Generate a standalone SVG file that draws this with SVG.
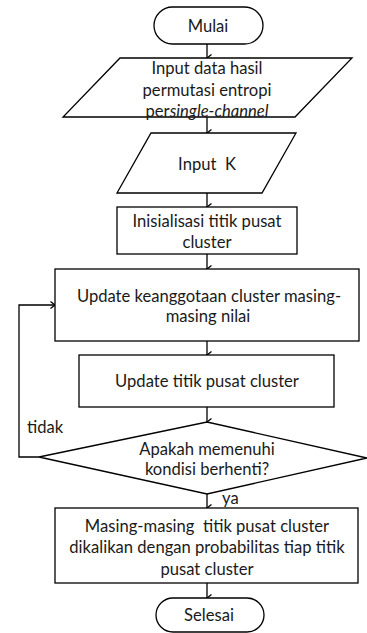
<svg xmlns="http://www.w3.org/2000/svg" width="367" height="633" viewBox="0 0 367 633">
  <style>
    .shape { fill: #ffffff; stroke: #000000; stroke-width: 1.3; }
    .edge { fill: none; stroke: #000000; stroke-width: 1.3; }
    text { font-family: Lato, "Liberation Sans", sans-serif; font-size: 16.6px; fill: #1a1a1a; text-anchor: middle; }
    .lbl { text-anchor: start; }
  </style>
  <defs>
    <marker id="arrow" markerWidth="10" markerHeight="8" refX="4" refY="6" orient="auto-start-reverse" markerUnits="userSpaceOnUse" viewBox="0 0 8 8">
      <path d="M0.5,1.5 L4,6 L7.5,1.5" fill="none" stroke="#000" stroke-width="1.3"/>
    </marker>
    <marker id="arrowR" markerWidth="8" markerHeight="10" refX="6" refY="4" markerUnits="userSpaceOnUse" viewBox="0 0 8 8">
      <path d="M1.5,0.5 L6,4 L1.5,7.5" fill="none" stroke="#000" stroke-width="1.3"/>
    </marker>
  </defs>

  <rect width="367" height="633" fill="#ffffff"/>

  <!-- connectors -->
  <g id="connectors">
    <line class="edge" x1="207" y1="44" x2="207" y2="58" marker-end="url(#arrow)"/>
    <line class="edge" x1="207" y1="117" x2="207" y2="133" marker-end="url(#arrow)"/>
    <line class="edge" x1="207" y1="193" x2="207" y2="207" marker-end="url(#arrow)"/>
    <line class="edge" x1="207" y1="254" x2="207" y2="269" marker-end="url(#arrow)"/>
    <line class="edge" x1="207" y1="341" x2="207" y2="355" marker-end="url(#arrow)"/>
    <line class="edge" x1="207" y1="407" x2="207" y2="422" marker-end="url(#arrow)"/>
    <line class="edge" x1="207" y1="494" x2="207" y2="508" marker-end="url(#arrow)"/>
    <line class="edge" x1="207" y1="583" x2="207" y2="598" marker-end="url(#arrow)"/>
    <polyline class="edge" points="39,457 19,457 19,305 55,305" marker-end="url(#arrowR)"/>
    <text class="lbl" x="27" y="433">tidak</text>
    <text class="lbl" x="222" y="504">ya</text>
  </g>

  <g id="start">
    <rect class="shape" x="154" y="7" width="109" height="37" rx="18.5"/>
    <text x="208" y="32">Mulai</text>
  </g>

  <g id="input-data">
    <polygon class="shape" points="120,58 352,58 295,117 63,117"/>
    <text x="207" y="74">Input data hasil</text>
    <text x="207" y="96">permutasi entropi</text>
    <text x="207" y="117">per<tspan font-style="italic">single-channel</tspan></text>
  </g>

  <g id="input-k">
    <polygon class="shape" points="151,133 296,133 262,193 117,193"/>
    <text x="207" y="170" xml:space="preserve">Input  K</text>
  </g>

  <g id="init-centroid">
    <rect class="shape" x="117" y="207" width="180" height="47"/>
    <text x="207" y="227">Inisialisasi titik pusat</text>
    <text x="207" y="248">cluster</text>
  </g>

  <g id="update-membership">
    <rect class="shape" x="55" y="269" width="304" height="72"/>
    <text x="209" y="302">Update keanggotaan cluster masing-</text>
    <text x="208" y="322">masing nilai</text>
  </g>

  <g id="update-centroid">
    <rect class="shape" x="79" y="355" width="255" height="52"/>
    <text x="207" y="387">Update titik pusat cluster</text>
  </g>

  <g id="stop-check">
    <polygon class="shape" points="207,422 367,458 207,494 39,457"/>
    <text x="207" y="455">Apakah memenuhi</text>
    <text x="207" y="475">kondisi berhenti?</text>
  </g>

  <g id="weighting">
    <rect class="shape" x="55" y="508" width="303" height="75"/>
    <text x="207" y="532" xml:space="preserve">Masing-masing  titik pusat cluster</text>
    <text x="207" y="553">dikalikan dengan probabilitas tiap titik</text>
    <text x="207" y="575">pusat cluster</text>
  </g>

  <g id="end">
    <rect class="shape" x="156" y="598" width="108" height="34" rx="17"/>
    <text x="209" y="621">Selesai</text>
  </g>
</svg>
